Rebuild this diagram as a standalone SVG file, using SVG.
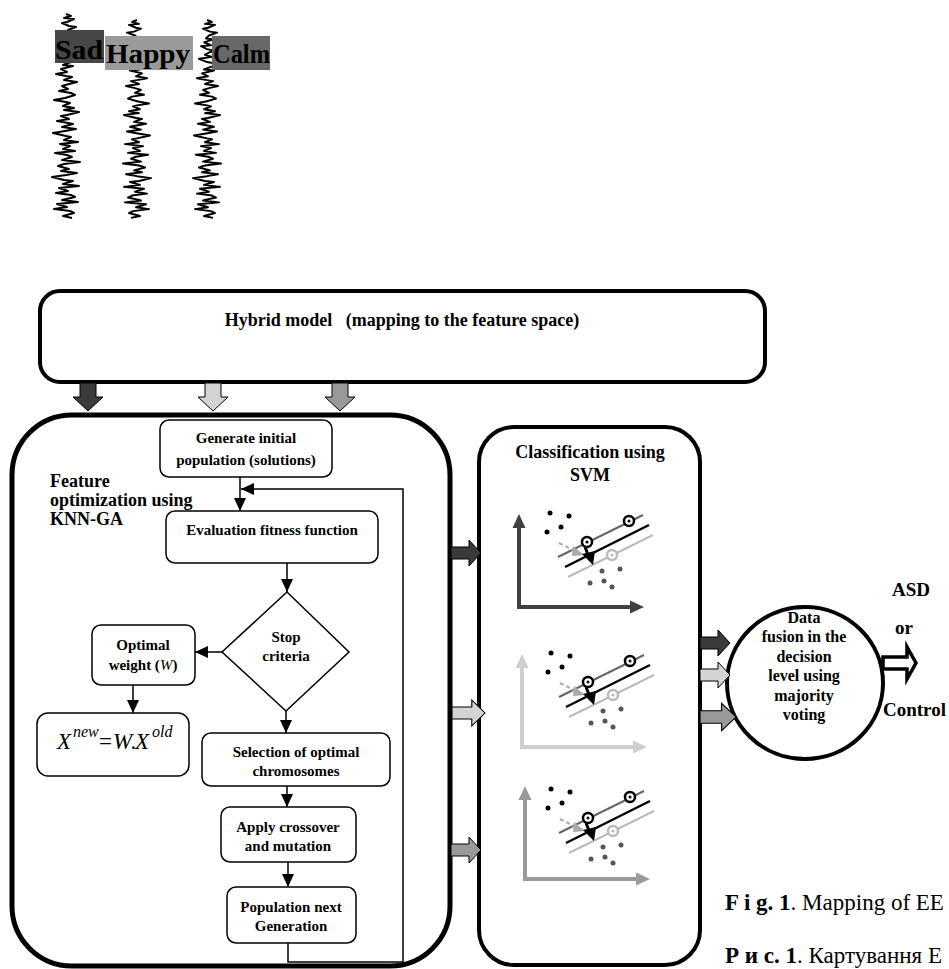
<svg xmlns="http://www.w3.org/2000/svg" xmlns:xlink="http://www.w3.org/1999/xlink" width="949" height="969" viewBox="0 0 949 969">
<style>
.t{font-family:"Liberation Serif","Times New Roman",serif;font-weight:bold;fill:#000}
.r{font-family:"Liberation Serif","Times New Roman",serif;fill:#000}
.i{font-family:"Liberation Serif","Times New Roman",serif;font-style:italic;fill:#000}
.box{fill:#fff;stroke:#000;stroke-width:1.5}
.big{fill:#fff;stroke:#000}
.con{fill:none;stroke:#000;stroke-width:1.5}
.wave{fill:none;stroke:#000;stroke-width:2;stroke-linejoin:round}
.blk{stroke:#000;stroke-width:1}
</style>
<defs>
<marker id="ah" markerUnits="userSpaceOnUse" markerWidth="14" markerHeight="12" refX="13" refY="6" orient="auto">
<path d="M0,0 L13,6 L0,12 Z" fill="#000"/>
</marker>
<path id="wave" d="M0,0 L5,2 L-2,4 L8,5 L1,8 L-4,9 L3,12 L10,13 L2,16 L-1,19 L6,20 L-3,23 L4,26 L-6,27 L0,30 L9,32 L3,33 L-2,36 L5,38 L-8,40 L-1,43 L4,44 L12,46 L2,49 L-3,51 L7,52 L-5,55 L1,58 L-10,60 L0,62 L6,63 L-2,66 L11,68 L3,70 L-4,72 L2,75 L-7,77 L5,79 L9,81 L-1,84 L-12,86 L0,88 L4,89 L-3,92 L8,94 L-2,96 L13,98 L1,101 L-5,102 L3,105 L-9,107 L2,109 L7,110 L-4,113 L10,115 L-1,117 L-13,119 L0,122 L5,123 L-2,126 L12,128 L-6,130 L4,132 L-3,135 L9,137 L-11,139 L1,141 L6,143 L-4,146 L14,148 L-2,150 L-8,152 L3,155 L-5,157 L11,159 L0,161 L-14,163 L-2,166 L7,167 L-3,170 L13,172 L-7,174 L2,177 L-10,179 L5,181 L9,183 L-4,186 L12,188 L-9,190 L1,193 L-12,195 L4,197 L8,199 L-3,202 L6,204"/>
<path id="darr" d="M-8,0 H8 V14 H15 L0,28 L-15,14 H-8 Z"/>
<path id="rarr" d="M0,-6 H18 V-13 L30,0 L18,13 V6 H0 Z"/>
<g id="axes">
<path d="M0,-80 V0 H112" fill="none" stroke-width="4"/>
<path d="M-6.5,-79 L0,-93 L6.5,-79 Z M111,-6.5 L125,0 L111,6.5 Z" stroke="none"/>
</g>
<g id="svm">
<line x1="39" y1="-50" x2="124" y2="-92" stroke="#666" stroke-width="2"/>
<line x1="46" y1="-40" x2="130" y2="-82" stroke="#000" stroke-width="2.5"/>
<line x1="49" y1="-30" x2="134" y2="-72" stroke="#bbb" stroke-width="2"/>
<g fill="#000">
<circle cx="31" cy="-94" r="2.5"/><circle cx="50" cy="-91" r="2.5"/><circle cx="42" cy="-80" r="2.5"/><circle cx="28" cy="-75" r="2.5"/>
</g>
<g fill="#555">
<circle cx="83" cy="-36" r="2.5"/><circle cx="101" cy="-38" r="2.5"/><circle cx="71" cy="-24" r="2.5"/><circle cx="85" cy="-26" r="2.5"/><circle cx="93" cy="-20" r="2.5"/>
</g>
<circle cx="110" cy="-86" r="5" fill="#fff" stroke="#000" stroke-width="2.5"/><circle cx="110" cy="-86" r="1.5" fill="#000"/>
<circle cx="68" cy="-65" r="5" fill="#fff" stroke="#000" stroke-width="2.5"/><circle cx="68" cy="-65" r="1.5" fill="#000"/>
<circle cx="93" cy="-52" r="5" fill="#fff" stroke="#bbb" stroke-width="2.5"/><circle cx="93" cy="-52" r="1.5" fill="#bbb"/>
<line x1="40" y1="-64" x2="56" y2="-56" stroke="#aaa" stroke-width="2" stroke-dasharray="4,3"/>
<path d="M54,-61 L65,-52 L53,-51 Z" fill="#aaa"/>
<line x1="66" y1="-60" x2="70" y2="-50" stroke="#000" stroke-width="3"/>
<path d="M63,-53 L74,-42 L76,-56 Z" fill="#000"/>
</g>
</defs>

<g id="eeg">
<use xlink:href="#wave" transform="translate(66,14)" class="wave"/>
<use xlink:href="#wave" transform="translate(137,20) scale(-1,0.97)" class="wave"/>
<use xlink:href="#wave" transform="translate(207,20) scale(1,0.97)" class="wave"/>
<g id="label-sad"><rect x="55" y="30" width="49" height="33" fill="#474747"/><text class="t" x="55" y="59" font-size="28" textLength="48" lengthAdjust="spacingAndGlyphs">Sad</text></g>
<g id="label-happy"><rect x="105" y="36" width="88" height="34" fill="#9a9a9a"/><text class="t" x="106" y="63" font-size="28" textLength="84" lengthAdjust="spacingAndGlyphs">Happy</text></g>
<g id="label-calm"><rect x="212" y="36" width="58" height="34" fill="#686868"/><text class="t" x="213" y="63" font-size="28" textLength="57" lengthAdjust="spacingAndGlyphs">Calm</text></g>
</g>

<g id="hybrid">
<rect x="40" y="291" width="725" height="91" rx="20" class="big" stroke-width="4"/>
<text class="t" x="402" y="326" font-size="18" text-anchor="middle" xml:space="preserve">Hybrid model   (mapping to the feature space)</text>
</g>

<g id="panel-ga">
<rect x="12" y="415" width="438" height="551" rx="60" class="big" stroke-width="5"/>
<text class="t" font-size="18"><tspan x="50" y="487">Feature</tspan><tspan x="50" y="506">optimization using</tspan><tspan x="50" y="525">KNN-GA</tspan></text>
</g>

<g id="panel-svm">
<rect x="479" y="427" width="221" height="538" rx="35" class="big" stroke-width="4"/>
<text class="t" font-size="18" text-anchor="middle"><tspan x="590" y="458">Classification using</tspan><tspan x="590" y="481">SVM</tspan></text>
<g id="svm1"><use xlink:href="#axes" transform="translate(519,607)" stroke="#404040" fill="#404040"/><use xlink:href="#svm" transform="translate(519,607)"/></g>
<g id="svm2"><use xlink:href="#axes" transform="translate(522,747)" stroke="#cfcfcf" fill="#cfcfcf"/><use xlink:href="#svm" transform="translate(520,747)"/></g>
<g id="svm3"><use xlink:href="#axes" transform="translate(525,879)" stroke="#9a9a9a" fill="#9a9a9a"/><use xlink:href="#svm" transform="translate(520,883)"/></g>
</g>

<g id="generate"><rect x="160" y="420" width="172" height="57" rx="9" class="box"/><text class="t" font-size="15" text-anchor="middle"><tspan x="246" y="443">Generate initial</tspan><tspan x="246" y="465">population (solutions)</tspan></text></g>
<g id="evaluation"><rect x="166" y="511" width="212" height="52" rx="9" class="box"/><text class="t" font-size="15" text-anchor="middle" x="272" y="535">Evaluation fitness function</text></g>
<g id="stop"><path d="M287,592 L349,652 L286,711 L222,652 Z" class="box"/><text class="t" font-size="15" text-anchor="middle"><tspan x="286" y="642">Stop</tspan><tspan x="286" y="661">criteria</tspan></text></g>
<g id="optimal"><rect x="92" y="625" width="103" height="60" rx="9" class="box"/><text class="t" font-size="15" text-anchor="middle"><tspan x="143" y="650">Optimal</tspan><tspan x="143" y="670">weight (<tspan class="i" font-weight="normal">W</tspan>)</tspan></text></g>
<g id="xnew"><rect x="37" y="713" width="152" height="63" rx="11" class="box"/>
<text class="i" font-size="23" y="749"><tspan x="57">X</tspan><tspan x="73" y="737" font-size="16">new</tspan><tspan class="r" x="99" y="749" font-style="normal">=</tspan><tspan x="113" y="749">W</tspan><tspan x="131" y="749">.</tspan><tspan x="135" y="749">X</tspan><tspan x="152" y="737" font-size="16">old</tspan></text></g>
<g id="selection"><rect x="202" y="733" width="188" height="53" rx="9" class="box"/><text class="t" font-size="15" text-anchor="middle"><tspan x="296" y="757">Selection of optimal</tspan><tspan x="296" y="776">chromosomes</tspan></text></g>
<g id="apply"><rect x="221" y="807" width="135" height="55" rx="9" class="box"/><text class="t" font-size="15" text-anchor="middle"><tspan x="288" y="832">Apply crossover</tspan><tspan x="288" y="851">and mutation</tspan></text></g>
<g id="population"><rect x="227" y="887" width="129" height="56" rx="9" class="box"/><text class="t" font-size="15" text-anchor="middle"><tspan x="291" y="912">Population next</tspan><tspan x="291" y="931">Generation</tspan></text></g>

<g id="fusion">
<ellipse cx="805" cy="683" rx="78" ry="76" class="big" stroke-width="4"/>
<text class="t" font-size="16" text-anchor="middle"><tspan x="804" y="623">Data</tspan><tspan x="804" y="642">fusion in the</tspan><tspan x="804" y="662">decision</tspan><tspan x="804" y="681">level using</tspan><tspan x="804" y="701">majority</tspan><tspan x="804" y="720">voting</tspan></text>
</g>

<g id="connectors">
<path class="con" d="M240,477 V511" marker-end="url(#ah)"/>
<path class="con" d="M287,563 V592" marker-end="url(#ah)"/>
<path class="con" d="M222,652 H195" marker-end="url(#ah)"/>
<path class="con" d="M133,685 V713" marker-end="url(#ah)"/>
<path class="con" d="M286,711 V733" marker-end="url(#ah)"/>
<path class="con" d="M287,786 V807" marker-end="url(#ah)"/>
<path class="con" d="M288,862 V887" marker-end="url(#ah)"/>
<path class="con" d="M288,943 V962 H403 V489 H241" marker-end="url(#ah)"/>
<use xlink:href="#darr" transform="translate(88,383)" fill="#3a3a3a" class="blk"/>
<use xlink:href="#darr" transform="translate(213,383)" fill="#d4d4d4" class="blk"/>
<use xlink:href="#darr" transform="translate(340,383)" fill="#999" class="blk"/>
<use xlink:href="#rarr" transform="translate(451,553)" fill="#3a3a3a" class="blk"/>
<use xlink:href="#rarr" transform="translate(452,713) scale(1.1,1)" fill="#d4d4d4" class="blk"/>
<use xlink:href="#rarr" transform="translate(451,850)" fill="#999" class="blk"/>
<use xlink:href="#rarr" transform="translate(700,643)" fill="#3a3a3a" class="blk"/>
<use xlink:href="#rarr" transform="translate(700,675)" fill="#d4d4d4" class="blk"/>
<use xlink:href="#rarr" transform="translate(700,717) scale(1.2,1.05)" fill="#999" class="blk"/>
<path d="M883,657 H907 V647 L916,663 L907,679 V669 H883 Z" fill="#fff" stroke="#000" stroke-width="3.5" stroke-linejoin="miter"/>
</g>

<g id="outputs">
<text class="t" font-size="19" x="892" y="596">ASD</text>
<text class="t" font-size="19" x="895" y="634">or</text>
<text class="t" font-size="19" x="883" y="716">Control</text>
</g>

<g id="caption">
<text class="r" font-size="23" x="725" y="910"><tspan font-weight="bold">F i g. 1</tspan>. Mapping of EE</text>
<text class="r" font-size="23" x="725" y="963"><tspan font-weight="bold">Р и с. 1</tspan>. Картування Е</text>
</g>
</svg>
